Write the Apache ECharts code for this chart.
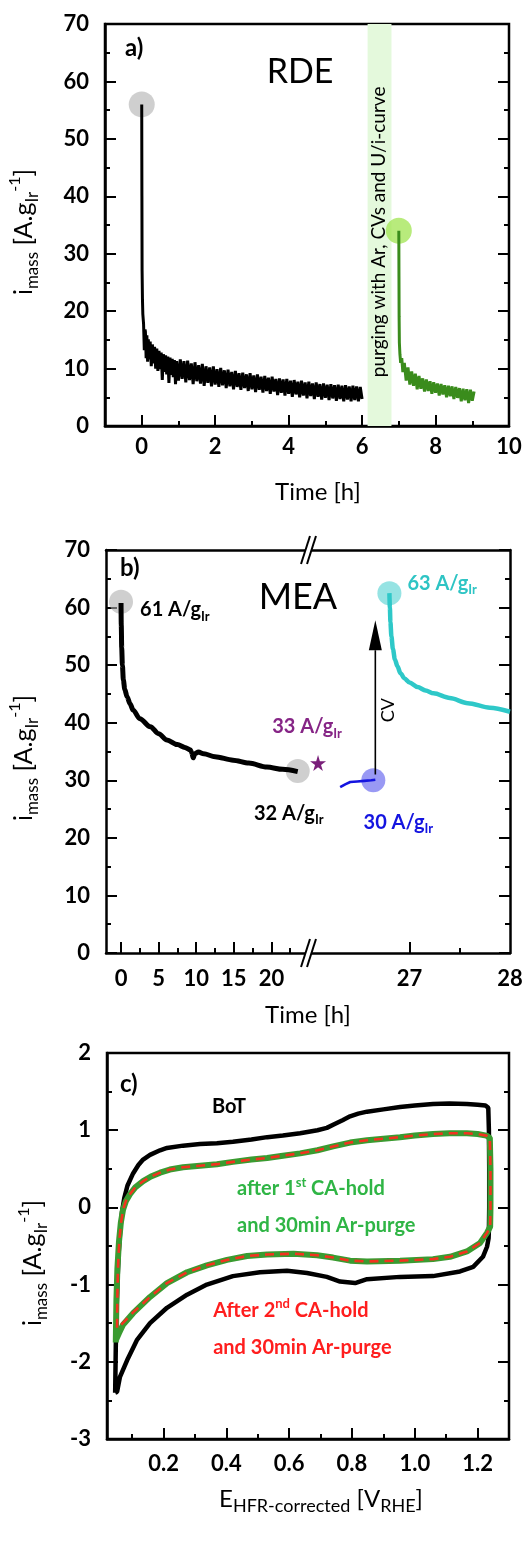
<!DOCTYPE html>
<html>
<head>
<meta charset="utf-8">
<script src="https://cdn.jsdelivr.net/npm/echarts@6/dist/echarts.min.js"></script>
<style>
html, body { margin: 0; padding: 0; background: #fff; }
#chart { width: 527px; height: 1546px; }
</style>
</head>
<body>
<div id="chart"></div>
<script>
// ---- a) RDE chronoamperometry ----
const rdeTime = [0, 0.005, 0.01, 0.02, 0.03, 0.05, 0.07, 0.09,
  0.10, 0.12, 0.14, 0.16, 0.18, 0.20, 0.23, 0.26, 0.29, 0.32, 0.35, 0.38, 0.41, 0.44, 0.47, 0.50, 0.53, 0.56, 0.59, 0.62, 0.65, 0.68, 0.71, 0.74, 0.77, 0.80, 0.83, 0.86, 0.89, 0.92, 0.95,
  1.00, 1.05, 1.10, 1.15, 1.20, 1.25, 1.30, 1.35, 1.40, 1.45, 1.50, 1.55, 1.60, 1.65, 1.70, 1.75, 1.80, 1.85, 1.90, 1.95,
  2.00, 2.05, 2.10, 2.15, 2.20, 2.25, 2.30, 2.35, 2.40, 2.45, 2.50, 2.55, 2.60, 2.65, 2.70, 2.75, 2.80, 2.85, 2.90, 2.95,
  3.00, 3.05, 3.10, 3.15, 3.20, 3.25, 3.30, 3.35, 3.40, 3.45, 3.50, 3.55, 3.60, 3.65, 3.70, 3.75, 3.80, 3.85, 3.90, 3.95,
  4.00, 4.05, 4.10, 4.15, 4.20, 4.25, 4.30, 4.35, 4.40, 4.45, 4.50, 4.55, 4.60, 4.65, 4.70, 4.75, 4.80, 4.85, 4.90, 4.95,
  5.00, 5.05, 5.10, 5.15, 5.20, 5.25, 5.30, 5.35, 5.40, 5.45, 5.50, 5.55, 5.60, 5.65, 5.70, 5.75, 5.80, 5.85, 5.90, 5.95, 6.00];
const rdeCurrent = [56, 40, 27, 22, 19.5, 17.8, 13.2, 16.8,
  16.4, 11.8, 15.8, 11.2, 15.1, 11.6, 14.7, 10.4, 14.2, 10.9, 13.8, 10.0, 13.5, 9.6, 13.1, 9.9, 12.8, 8.0, 12.5, 9.4, 12.3, 9.0, 12.1, 7.5, 11.9, 8.9, 11.7, 8.5, 11.5, 7.3, 11.3,
  7.9, 11.6, 8.2, 11.3, 7.6, 11.4, 8.0, 10.9, 7.3, 11.1, 7.8, 10.6, 7.4, 10.8, 7.0, 10.4, 7.5, 10.2, 6.9, 10.4,
  7.2, 9.9, 6.8, 10.1, 7.1, 9.7, 6.6, 9.8, 6.9, 9.4, 6.4, 9.6, 6.8, 9.2, 6.3, 9.3, 6.6, 9.0, 6.1, 9.2,
  6.4, 8.8, 5.9, 9.0, 6.3, 8.6, 5.8, 8.7, 6.1, 8.4, 5.6, 8.6, 6.0, 8.2, 5.4, 8.3, 5.8, 8.1, 5.3, 8.2,
  5.6, 7.9, 5.1, 8.0, 5.5, 7.7, 5.0, 7.9, 5.3, 7.6, 4.8, 7.7, 5.2, 7.4, 4.7, 7.6, 5.1, 7.3, 4.6, 7.4,
  4.9, 7.2, 4.5, 7.3, 4.8, 7.1, 4.4, 7.2, 4.7, 7.0, 4.3, 7.1, 4.6, 6.9, 4.3, 7.0, 4.5, 6.9, 4.3, 6.8, 4.7];
const rdeTime2 = [7.0, 7.004, 7.008, 7.015, 7.03, 7.05, 7.08, 7.11, 7.15, 7.2, 7.25, 7.3, 7.35, 7.4, 7.45, 7.5, 7.55, 7.6, 7.65, 7.7, 7.75, 7.8, 7.85, 7.9, 7.95,
  8.0, 8.05, 8.1, 8.15, 8.2, 8.25, 8.3, 8.35, 8.4, 8.45, 8.5, 8.55, 8.6, 8.65, 8.7, 8.75, 8.8, 8.85, 8.9, 8.95, 9.0, 9.05];
const rdeCurrent2 = [34, 26, 19, 14.5, 12.5, 11.0, 11.8, 9.4, 11.0, 7.9, 10.2, 7.2, 9.5, 7.0, 9.1, 6.4, 8.7, 6.5, 8.3, 6.0, 8.1, 6.1, 7.8, 5.6, 7.6,
  5.8, 7.4, 5.3, 7.3, 5.5, 7.1, 5.0, 7.0, 5.2, 6.9, 4.7, 6.8, 4.9, 6.6, 4.3, 6.5, 4.5, 6.4, 4.0, 6.3, 4.4, 6.0];
const rdePurge = [6.15, 6.8];
const rdeMarks = [[0, 56], [7, 34]];
const aTicks = [0, 2, 4, 6, 8, 10];
const aMinor = [1, 3, 5, 7, 9];

// ---- b) MEA ----
const meaTime = [0, 0.03, 0.09, 0.18, 0.31, 0.5, 0.8, 1.2, 1.6, 2.5, 3.9, 5, 6.1, 7.5, 8.5, 9.2, 9.4, 9.6, 9.8, 10.3, 11, 12.5, 14.9, 17, 19.4, 21.5, 23.5];
const meaCurrent = [60.8, 57, 53, 50, 47.4, 45.8, 44.5, 43.3, 42.2, 40.7, 39.3, 38.1, 37, 36.2, 35.7, 35.3, 34.8, 33.9, 34.6, 34.9, 34.6, 34.1, 33.5, 33, 32.3, 31.9, 31.5];
const meaBlueTime = [26.31, 26.36, 26.41, 26.48, 26.55, 26.62, 26.66];
const meaBlueCurrent = [28.8, 29.3, 29.7, 29.8, 29.9, 30.0, 30.1];
const meaCyanTime = [26.8, 26.805, 26.81, 26.82, 26.835, 26.855, 26.88, 26.91, 26.95, 27.0, 27.08, 27.16, 27.24, 27.4, 27.58, 27.8, 28.0];
const meaCyanCurrent = [62.5, 60, 57.5, 55, 52.8, 51, 49.8, 48.6, 47.7, 47.0, 46.2, 45.6, 45.1, 44.3, 43.4, 42.6, 41.9];
const meaStart = [0, 61];
const meaEnd = [23.5, 31.6];
const meaStar = [26.09, 33];
const meaBlueMark = [26.64, 30];
const meaCyanMark = [26.8, 62.5];
const cvArrow = {x: 26.66, from: 31, to: 57.8, head: 5.2};
const bTicksLeft = [0, 5, 10, 15, 20];
const bMinorLeft = [2.5, 7.5, 12.5, 17.5, 22.5];
const bTicksRight = [27, 28];
const bMinorRight = [27.5];

// ---- c) CVs ----
const cvPotBoT = [0.046, 0.048, 0.050, 0.053, 0.057, 0.062, 0.068, 0.075, 0.085, 0.103, 0.120, 0.135, 0.157, 0.189, 0.211, 0.262, 0.316, 0.370, 0.421, 0.480, 0.530, 0.580, 0.635, 0.690, 0.720, 0.745, 0.770, 0.794, 0.820, 0.848, 0.900, 0.953, 1.000, 1.058, 1.110, 1.166, 1.200, 1.225, 1.234,
  1.236, 1.237, 1.237, 1.236, 1.235, 1.230, 1.217, 1.186, 1.144, 1.058, 0.953, 0.848, 0.810, 0.762, 0.720, 0.657, 0.593, 0.507, 0.421, 0.338, 0.275, 0.211, 0.157, 0.115, 0.084, 0.061, 0.052, 0.046];
const cvCurBoT = [-2.40, -1.80, -1.40, -1.00, -0.60, -0.30, -0.05, 0.12, 0.28, 0.44, 0.55, 0.62, 0.68, 0.74, 0.77, 0.80, 0.82, 0.83, 0.85, 0.88, 0.91, 0.93, 0.96, 1.00, 1.03, 1.08, 1.13, 1.18, 1.215, 1.24, 1.27, 1.30, 1.32, 1.34, 1.345, 1.34, 1.33, 1.32, 1.29,
  1.0, 0.5, 0.0, -0.30, -0.40, -0.51, -0.64, -0.77, -0.83, -0.89, -0.90, -0.93, -0.98, -0.96, -0.90, -0.85, -0.82, -0.84, -0.89, -1.00, -1.13, -1.30, -1.50, -1.72, -1.98, -2.20, -2.39, -2.40];
const cvPotA1 = [0.048, 0.050, 0.053, 0.058, 0.064, 0.071, 0.080, 0.093, 0.110, 0.135, 0.160, 0.189, 0.220, 0.262, 0.316, 0.370, 0.421, 0.480, 0.530, 0.580, 0.635, 0.690, 0.740, 0.794, 0.848, 0.900, 0.953, 1.000, 1.058, 1.110, 1.166, 1.200, 1.228, 1.239,
  1.241, 1.241, 1.240, 1.230, 1.208, 1.166, 1.112, 1.058, 0.953, 0.848, 0.794, 0.740, 0.689, 0.614, 0.530, 0.466, 0.402, 0.338, 0.275, 0.211, 0.157, 0.103, 0.071, 0.058, 0.048];
const cvCurA1 = [-1.75, -1.20, -0.80, -0.45, -0.20, -0.03, 0.08, 0.17, 0.26, 0.34, 0.40, 0.45, 0.49, 0.52, 0.54, 0.56, 0.59, 0.62, 0.64, 0.67, 0.70, 0.74, 0.79, 0.84, 0.87, 0.89, 0.91, 0.93, 0.95, 0.96, 0.96, 0.95, 0.93, 0.90,
  0.50, 0.00, -0.25, -0.33, -0.46, -0.57, -0.64, -0.67, -0.69, -0.70, -0.69, -0.65, -0.62, -0.60, -0.61, -0.63, -0.68, -0.75, -0.84, -0.98, -1.16, -1.37, -1.52, -1.63, -1.72];
const cvPotA2 = [0.052, 0.053, 0.055, 0.059, 0.065, 0.072, 0.081, 0.093, 0.110, 0.135, 0.160, 0.189, 0.220, 0.262, 0.316, 0.370, 0.421, 0.480, 0.530, 0.580, 0.635, 0.690, 0.740, 0.794, 0.848, 0.900, 0.953, 1.000, 1.058, 1.110, 1.166, 1.200, 1.228, 1.239,
  1.241, 1.241, 1.240, 1.230, 1.208, 1.166, 1.112, 1.058, 0.953, 0.848, 0.794, 0.740, 0.689, 0.614, 0.530, 0.466, 0.402, 0.338, 0.275, 0.211, 0.157, 0.103, 0.075, 0.060, 0.052];
const cvCurA2 = [-1.56, -1.15, -0.78, -0.44, -0.19, -0.02, 0.09, 0.17, 0.26, 0.34, 0.40, 0.45, 0.49, 0.52, 0.54, 0.56, 0.59, 0.62, 0.64, 0.67, 0.70, 0.74, 0.79, 0.84, 0.87, 0.89, 0.91, 0.93, 0.95, 0.96, 0.96, 0.95, 0.93, 0.90,
  0.50, 0.00, -0.25, -0.33, -0.46, -0.57, -0.64, -0.67, -0.69, -0.70, -0.69, -0.65, -0.62, -0.60, -0.61, -0.63, -0.68, -0.75, -0.84, -0.98, -1.16, -1.36, -1.48, -1.54, -1.56];
const cTicks = [0.2, 0.4, 0.6, 0.8, 1.0, 1.2];
const cMinor = [0.1, 0.3, 0.5, 0.7, 0.9, 1.1];

const FONT = 'Lato, "Open Sans", sans-serif';
const zip = (xs, ys) => xs.map((x, i) => [x, ys[i]]);

function baseAxis(gridIndex, position, min, max) {
  return {
    type: 'value', gridIndex: gridIndex, position: position, min: min, max: max,
    axisLine: {show: true, onZero: false, lineStyle: {color: '#000', width: 2.5}},
    axisTick: {show: true, inside: true, length: 11, lineStyle: {color: '#000', width: 2}},
    minorTick: {show: false},
    axisLabel: {show: true, color: '#000', fontFamily: FONT, fontWeight: 'bold', fontSize: 22, margin: 16},
    splitLine: {show: false}, minorSplitLine: {show: false}
  };
}
function minorAxis(gridIndex, position, min, max, values) {
  const a = baseAxis(gridIndex, position, min, max);
  a.axisLine.show = false;
  a.axisLabel.show = false;
  a.axisTick.customValues = values;
  a.axisTick.length = 5;
  return a;
}
function lineOnly(gridIndex, position, min, max) {
  const a = baseAxis(gridIndex, position, min, max);
  a.axisTick.show = false;
  a.axisLabel.show = false;
  return a;
}
function yAxisOf(gridIndex, position, min, max, step, withLabels, withLine) {
  const a = baseAxis(gridIndex, position, min, max);
  a.interval = step;
  a.axisLine.show = withLine;
  a.axisLabel.show = withLabels;
  a.minorTick = {show: true, splitNumber: 2, length: 5, lineStyle: {color: '#000', width: 2}};
  return a;
}

const nameRich = {
  b: {fontFamily: FONT, fontSize: 24, color: '#000', lineHeight: 32},
  s: {fontFamily: FONT, fontSize: 16, color: '#000', lineHeight: 32, height: 16, verticalAlign: 'bottom'},
  s2: {fontFamily: FONT, fontSize: 18, color: '#000', lineHeight: 32, height: 18, verticalAlign: 'bottom'},
  p: {fontFamily: FONT, fontSize: 15, color: '#000', lineHeight: 32, height: 15, verticalAlign: 'top'}
};
const yRich = {
  b: {fontFamily: FONT, fontSize: 25, fill: '#000', lineHeight: 34},
  s: {fontFamily: FONT, fontSize: 17, fill: '#000', lineHeight: 34, height: 17, verticalAlign: 'bottom'},
  p: {fontFamily: FONT, fontSize: 16, fill: '#000', lineHeight: 34, height: 16, verticalAlign: 'top'}
};
const yName = '{b|i}{s|mass}{b| [A.g}{s|Ir}{p|-1}{b|]}';
function yNameText(x, y) {
  return {type: 'text', x: x, y: y, rotation: Math.PI / 2, z: 100,
    style: {text: yName, rich: yRich, align: 'center', verticalAlign: 'middle', fill: '#000'}};
}

// x axes
const xa0 = baseAxis(0, 'bottom', -1, 10);
xa0.axisTick.customValues = aTicks; xa0.axisLabel.customValues = aTicks; xa0.axisLabel.margin = 10;
xa0.name = '{b|Time [h]}'; xa0.nameLocation = 'middle'; xa0.nameGap = 50;
xa0.nameTextStyle = {rich: nameRich, padding: [0, 0, 0, 22]};
const xa1 = minorAxis(0, 'bottom', -1, 10, aMinor);
const xa2 = baseAxis(1, 'bottom', -2, 25);
xa2.axisTick.customValues = bTicksLeft; xa2.axisLabel.customValues = bTicksLeft; xa2.axisLabel.margin = 15;
const xa3 = minorAxis(1, 'bottom', -2, 25, bMinorLeft);
const xa4 = lineOnly(1, 'top', -2, 25);
const xa5 = baseAxis(2, 'bottom', 26, 28);
xa5.axisTick.customValues = [27]; xa5.axisLabel.customValues = bTicksRight; xa5.axisLabel.margin = 15;
const xa6 = minorAxis(2, 'bottom', 26, 28, bMinorRight);
const xa7 = lineOnly(2, 'top', 26, 28);
const xa8 = baseAxis(3, 'bottom', 0.02, 1.3);
xa8.axisTick.customValues = cTicks; xa8.axisLabel.customValues = cTicks; xa8.axisLabel.margin = 14;
xa8.axisLabel.formatter = v => Number(v).toFixed(1);
xa8.name = '{b|E}{s2|HFR-corrected}{b| [V}{s2|RHE}{b|]}'; xa8.nameLocation = 'middle'; xa8.nameGap = 44;
xa8.nameTextStyle = {rich: nameRich, padding: [0, 0, 0, 26]};
const xa9 = minorAxis(3, 'bottom', 0.02, 1.3, cMinor);

// y axes
const ya0 = yAxisOf(0, 'left', 0, 70, 10, true, true);
const ya1 = yAxisOf(0, 'right', 0, 70, 10, false, false);
const ya2 = yAxisOf(1, 'left', 0, 70, 10, true, true);
const ya3 = yAxisOf(2, 'right', 0, 70, 10, false, true);
const ya4 = yAxisOf(3, 'left', -3, 2, 1, true, true);
const ya5 = yAxisOf(3, 'right', -3, 2, 1, false, false);

function lab(color, size, extra) {
  return Object.assign({
    show: true, color: color, opacity: 1, fontFamily: FONT, fontWeight: 'bold', fontSize: size, lineHeight: 26,
    textBorderWidth: 0, textBorderColor: 'transparent', textShadowBlur: 0,
    rich: {
      s: {fontFamily: FONT, fontWeight: 'bold', fontSize: 13, color: color, height: 13, lineHeight: 26, verticalAlign: 'bottom', textBorderWidth: 0},
      p: {fontFamily: FONT, fontWeight: 'bold', fontSize: 13, color: color, height: 13, lineHeight: 26, verticalAlign: 'top', textBorderWidth: 0}
    }
  }, extra);
}
function note(xi, yi, pos, text, label) {
  return {
    type: 'scatter', xAxisIndex: xi, yAxisIndex: yi, data: [pos], symbolSize: 1,
    itemStyle: {color: 'rgba(0,0,0,0)', opacity: 1}, silent: true, z: 20,
    label: Object.assign({show: true, position: 'inside', formatter: text, fontFamily: FONT, color: '#000', opacity: 1,
      textBorderWidth: 0, textBorderColor: 'transparent'}, label)
  };
}
function trace(xi, yi, data, color, width, extra) {
  return Object.assign({
    type: 'line', xAxisIndex: xi, yAxisIndex: yi, data: data, showSymbol: false, symbol: 'none',
    lineStyle: {color: color, width: width}, itemStyle: {color: color}, z: 5, silent: true
  }, extra);
}
function mark(xi, yi, data, color, size, extra) {
  return Object.assign({
    type: 'scatter', xAxisIndex: xi, yAxisIndex: yi, data: data, symbolSize: size,
    itemStyle: {color: color, opacity: 1}, z: 2, silent: true
  }, extra);
}

const STAR = 'path://M50,0 L61,35 L98,35 L68,57 L79,91 L50,70 L21,91 L32,57 L2,35 L39,35 Z';
const smoothX = {smooth: 0.3, smoothMonotone: 'x'};

const series = [
  // a)
  trace(0, 0, zip(rdeTime2, rdeCurrent2), '#3a8c1c', 3, {
    markArea: {silent: true, itemStyle: {color: '#e4f9dc'}, data: [[{xAxis: rdePurge[0]}, {xAxis: rdePurge[1]}]]}
  }),
  trace(0, 0, zip(rdeTime, rdeCurrent), '#000', 3),
  mark(0, 0, [rdeMarks[0]], 'rgba(175,175,175,0.6)', 26),
  mark(0, 0, [rdeMarks[1]], 'rgba(160,228,80,0.75)', 26),
  note(0, 0, [-0.455, 65.8], 'a)', {fontSize: 24, fontWeight: 'bold', align: 'left'}),
  note(0, 0, [4.31, 61.6], 'RDE', {fontSize: 34, align: 'center'}),
  note(0, 0, [6.47, 33.8], 'purging with Ar, CVs and U/i-curve', {fontSize: 19, rotate: 90, align: 'center', verticalAlign: 'middle'}),

  // b)
  trace(2, 2, zip(meaTime, meaCurrent), '#000', 5, smoothX),
  trace(5, 3, zip(meaBlueTime, meaBlueCurrent), '#1414e0', 2.6),
  trace(5, 3, zip(meaCyanTime, meaCyanCurrent), '#2ec8c8', 4.5, smoothX),
  trace(5, 3, [[cvArrow.x, cvArrow.from], [cvArrow.x, cvArrow.to - cvArrow.head]], '#000', 1.6, {z: 4}),
  mark(5, 3, [[cvArrow.x, cvArrow.to - cvArrow.head / 2]], '#000', [13, 30], {symbol: 'triangle', z: 4}),
  mark(2, 2, [
    {value: meaStart, label: lab('#000', 20, {position: 'inside', align: 'left', offset: [19, 8], formatter: '61 A/g{s|Ir}'})},
    {value: meaEnd, label: lab('#000', 20, {position: 'inside', align: 'center', offset: [-9, 42], formatter: '32 A/g{s|Ir}'})}
  ], 'rgba(175,175,175,0.6)', 24, {label: {show: true}}),
  mark(5, 3, [{value: meaBlueMark, label: lab('#1414e0', 20, {position: 'inside', align: 'center', offset: [25, 42], formatter: '30 A/g{s|Ir}'})}],
    'rgba(70,70,235,0.55)', 24, {label: {show: true}}),
  mark(5, 3, [{value: meaCyanMark, label: lab('#2ec4c4', 20, {position: 'inside', align: 'left', offset: [18, -10], formatter: '63 A/g{s|Ir}'})}],
    'rgba(46,200,200,0.5)', 24, {label: {show: true}}),
  mark(5, 3, [{value: meaStar, label: lab('#862586', 20, {position: 'inside', align: 'center', offset: [-11, -36], formatter: '33 A/g{s|Ir}'})}],
    '#7a1f7a', 16, {symbol: STAR, z: 6, label: {show: true}}),
  note(2, 2, [-0.14, 66.9], 'b)', {fontSize: 24, fontWeight: 'bold', align: 'left'}),
  note(2, 2, [23.53, 61.7], 'MEA', {fontSize: 36, align: 'center'}),
  note(5, 3, [26.79, 42.2], 'CV', {fontSize: 18, rotate: 90, align: 'center', verticalAlign: 'middle'}),

  // c)
  trace(8, 4, zip(cvPotBoT, cvCurBoT), '#000', 4.5),
  trace(8, 4, zip(cvPotA1, cvCurA1), '#3a9b30', 6),
  trace(8, 4, zip(cvPotA2, cvCurA2), '#f2331f', 2.6, {lineStyle: {color: '#f2331f', width: 2.6, type: [9, 6]}, z: 6}),
  note(8, 4, [0.061, 1.6], 'c)', {fontSize: 24, fontWeight: 'bold', align: 'left'}),
  note(8, 4, [0.354, 1.30], 'BoT', lab('#000', 20, {align: 'left'})),
  note(8, 4, [0.434, 0.24], 'after 1{p|st} CA-hold', lab('#2fb545', 20, {align: 'left'})),
  note(8, 4, [0.434, -0.24], 'and 30min Ar-purge', lab('#2fb545', 20, {align: 'left'})),
  note(8, 4, [0.358, -1.33], 'After 2{p|nd} CA-hold', lab('#ff1e1e', 20, {align: 'left'})),
  note(8, 4, [0.358, -1.82], 'and 30min Ar-purge', lab('#ff1e1e', 20, {align: 'left'}))
];

// break marks on panel b's time axis
const BX = 309;
const breakMarks = [];
[550, 953].forEach(function (y) {
  breakMarks.push({type: 'polygon', shape: {points: [[BX - 8, y + 14], [BX - 2, y + 14], [BX + 7, y - 14], [BX + 1, y - 14]]}, style: {fill: '#fff'}, z: 100});
  breakMarks.push({type: 'line', shape: {x1: BX - 8, y1: y + 14, x2: BX + 1, y2: y - 14}, style: {stroke: '#000', lineWidth: 2}, z: 101});
  breakMarks.push({type: 'line', shape: {x1: BX - 2, y1: y + 14, x2: BX + 7, y2: y - 14}, style: {stroke: '#000', lineWidth: 2}, z: 101});
});

const chart = echarts.init(document.getElementById('chart'));
chart.setOption({
  animation: false,
  backgroundColor: '#fff',
  grid: [
    {left: 105, top: 24, width: 404, height: 402, show: true, borderColor: '#000', borderWidth: 2.5},
    {left: 106, top: 550, width: 203, height: 403},
    {left: 309, top: 550, width: 201, height: 403},
    {left: 107, top: 1053, width: 402, height: 386, show: true, borderColor: '#000', borderWidth: 2.5}
  ],
  xAxis: [xa0, xa1, xa2, xa3, xa4, xa5, xa6, xa7, xa8, xa9],
  yAxis: [ya0, ya1, ya2, ya3, ya4, ya5],
  series: series,
  graphic: breakMarks.concat([
    yNameText(24, 232), yNameText(24, 758), yNameText(33, 1263),
    {type: 'text', x: 308, y: 1015, z: 100, style: {text: 'Time [h]', font: '24px ' + FONT, fill: '#000', align: 'center', verticalAlign: 'middle'}}
  ])
});
</script>
</body>
</html>
